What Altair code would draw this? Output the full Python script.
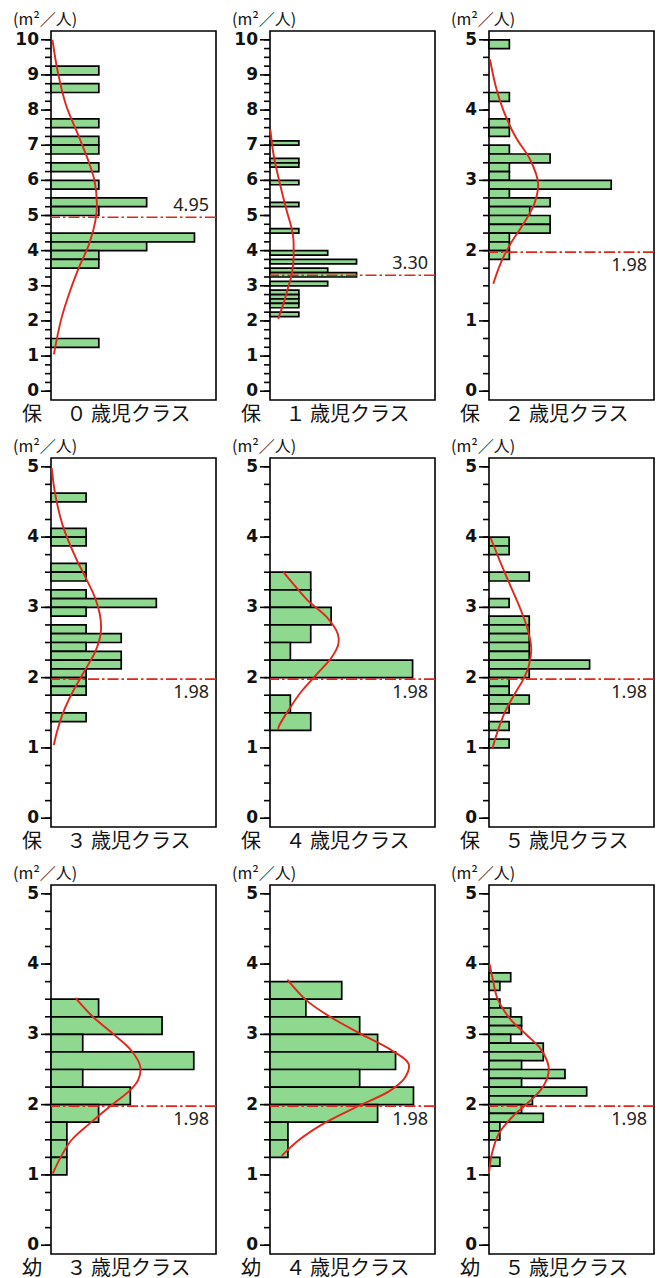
import altair as alt
import pandas as pd

# ---------------- data ----------------
TITLES = ["保　  ０ 歳児クラス", "保　  １ 歳児クラス", "保　  ２ 歳児クラス",
          "保　  ３ 歳児クラス", "保　  ４ 歳児クラス", "保　  ５ 歳児クラス",
          "幼　  ３ 歳児クラス", "幼　  ４ 歳児クラス", "幼　  ５ 歳児クラス"]
UNIT = "(m²／人)"
BINW = [0.25, 0.125, 0.125, 0.125, 0.25, 0.125, 0.25, 0.25, 0.125]
YMAX = [10, 10, 5, 5, 5, 5, 5, 5, 5]
XMAX = [3.45, 5.72, 8.1, 4.7, 8.1, 8.2, 10.4, 9.2, 15.2]
REF = [4.95, 3.30, 1.98, 1.98, 1.98, 1.98, 1.98, 1.98, 1.98]
REF_TEXT = ["4.95", "3.30", "1.98", "1.98", "1.98", "1.98", "1.98", "1.98", "1.98"]
REF_ABOVE = [True, True, False, False, False, False, False, False, False]

# histogram bins (lower edge) and counts
BIN_0 = [9.0, 8.5, 7.5, 7.0, 6.75, 6.25, 5.75, 5.25, 5.0, 4.25, 4.0, 3.75, 3.5, 1.25]
CNT_0 = [1, 1, 1, 1, 1, 1, 1, 2, 1, 3, 2, 1, 1, 1]
BIN_1 = [7.0, 6.5, 6.375, 5.875, 5.25, 4.5, 3.875, 3.625, 3.375, 3.25, 3.0, 2.75, 2.625, 2.5, 2.375, 2.125]
CNT_1 = [1, 1, 1, 1, 1, 1, 2, 3, 2, 3, 2, 1, 1, 1, 1, 1]
BIN_2 = [4.875, 4.125, 3.75, 3.625, 3.375, 3.25, 3.125, 3.0, 2.875, 2.75, 2.625, 2.5, 2.375, 2.25, 2.125, 2.0, 1.875]
CNT_2 = [1, 1, 1, 1, 1, 3, 1, 1, 6, 1, 3, 2, 3, 3, 1, 1, 1]
BIN_3 = [4.5, 4.0, 3.875, 3.5, 3.375, 3.125, 3.0, 2.875, 2.625, 2.5, 2.375, 2.25, 2.125, 2.0, 1.875, 1.75, 1.375]
CNT_3 = [1, 1, 1, 1, 1, 1, 3, 1, 1, 2, 1, 2, 2, 1, 1, 1, 1]
BIN_4 = [3.25, 3.0, 2.75, 2.5, 2.25, 2.0, 1.5, 1.25]
CNT_4 = [2, 2, 3, 2, 1, 7, 1, 2]
BIN_5 = [3.875, 3.75, 3.375, 3.0, 2.75, 2.625, 2.5, 2.375, 2.25, 2.125, 2.0, 1.875, 1.75, 1.625, 1.5, 1.25, 1.0]
CNT_5 = [1, 1, 2, 1, 2, 2, 2, 2, 2, 5, 2, 1, 1, 2, 1, 1, 1]
BIN_6 = [3.25, 3.0, 2.75, 2.5, 2.25, 2.0, 1.75, 1.5, 1.25, 1.0]
CNT_6 = [3, 7, 2, 9, 2, 5, 3, 1, 1, 1]
BIN_7 = [3.5, 3.25, 3.0, 2.75, 2.5, 2.25, 2.0, 1.75, 1.5, 1.25]
CNT_7 = [4, 2, 5, 6, 7, 5, 8, 6, 1, 1]
BIN_8 = [3.75, 3.625, 3.375, 3.25, 3.125, 3.0, 2.875, 2.75, 2.625, 2.5, 2.375, 2.25, 2.125, 2.0, 1.875, 1.75, 1.625, 1.5, 1.125]
CNT_8 = [2, 1, 1, 2, 3, 3, 2, 5, 5, 3, 7, 3, 9, 4, 3, 5, 1, 1, 1]

# fitted curves, points (value, count)
CV_0 = [10.0, 9.1, 8.16, 7.22, 6.56, 5.99, 5.33, 4.86, 4.20, 3.44, 2.78, 2.03, 1.05]
CC_0 = [0.03, 0.14, 0.31, 0.59, 0.78, 0.91, 0.96, 0.93, 0.80, 0.56, 0.38, 0.21, 0.06]
CV_1 = [7.46, 6.70, 5.95, 5.19, 4.63, 4.34, 3.95, 3.68, 3.30, 2.93, 2.55, 2.06]
CC_1 = [0.01, 0.13, 0.33, 0.56, 0.75, 0.81, 0.82, 0.81, 0.75, 0.62, 0.49, 0.28]
CV_2 = [4.72, 4.34, 4.0, 3.62, 3.29, 2.96, 2.67, 2.39, 2.10, 1.82, 1.53]
CC_2 = [0.05, 0.33, 0.70, 1.30, 2.03, 2.41, 2.23, 1.71, 1.06, 0.57, 0.21]
CV_3 = [4.98, 4.64, 4.17, 3.70, 3.41, 3.13, 2.84, 2.61, 2.37, 2.09, 1.80, 1.52, 1.23, 1.04]
CC_3 = [0.02, 0.11, 0.33, 0.71, 1.0, 1.26, 1.41, 1.41, 1.26, 0.95, 0.62, 0.36, 0.17, 0.08]
CV_4 = [3.50, 3.33, 3.10, 2.86, 2.62, 2.48, 2.29, 2.05, 1.81, 1.57, 1.31, 1.27]
CC_4 = [0.66, 1.15, 1.85, 2.79, 3.33, 3.36, 3.03, 2.30, 1.56, 0.98, 0.44, 0.40]
CV_5 = [3.99, 3.68, 3.35, 3.02, 2.69, 2.41, 2.17, 1.99, 1.75, 1.51, 1.23, 0.99]
CC_5 = [0.08, 0.51, 1.0, 1.5, 1.92, 2.1, 1.98, 1.73, 1.24, 0.79, 0.42, 0.17]
CV_6 = [3.52, 3.25, 3.01, 2.77, 2.54, 2.35, 2.20, 1.97, 1.73, 1.49, 1.26, 1.02]
CC_6 = [1.54, 2.64, 3.90, 5.06, 5.63, 5.49, 4.96, 3.69, 2.43, 1.27, 0.63, 0.11]
CV_7 = [3.78, 3.48, 3.25, 3.01, 2.77, 2.58, 2.39, 2.20, 1.97, 1.73, 1.49, 1.27]
CC_7 = [0.97, 2.05, 3.35, 5.03, 6.80, 7.73, 7.54, 6.70, 4.84, 2.98, 1.58, 0.65]
CV_8 = [4.00, 3.79, 3.50, 3.21, 2.98, 2.79, 2.55, 2.40, 2.21, 2.02, 1.83, 1.60, 1.31, 1.02]
CC_8 = [0.06, 0.34, 0.80, 2.0, 3.55, 4.77, 5.48, 5.41, 4.77, 3.55, 2.17, 0.95, 0.28, 0.0]

BINS = [BIN_0, BIN_1, BIN_2, BIN_3, BIN_4, BIN_5, BIN_6, BIN_7, BIN_8]
CNTS = [CNT_0, CNT_1, CNT_2, CNT_3, CNT_4, CNT_5, CNT_6, CNT_7, CNT_8]
CVS = [CV_0, CV_1, CV_2, CV_3, CV_4, CV_5, CV_6, CV_7, CV_8]
CCS = [CC_0, CC_1, CC_2, CC_3, CC_4, CC_5, CC_6, CC_7, CC_8]

# ---------------- styling ----------------
W, H = 165, 369
RED = "#e2261a"
GREEN = "#8fd88f"
NUMFONT = "DejaVu Sans"
VALFONT = "Noto Sans"
JPFONT = "Noto Sans CJK JP"
INK = "#111111"


def panel(k):
    ymax = YMAX[k]
    pad = ymax * 0.025
    ysc = alt.Scale(domain=[-pad, ymax + pad], nice=False, zero=False)
    xsc = alt.Scale(domain=[0, XMAX[k]], nice=False, zero=False)
    minor = [i * 0.25 for i in range(int(ymax / 0.25) + 1)]
    major = list(range(ymax + 1))

    bars_df = pd.DataFrame({
        "b0": BINS[k],
        "b1": [b + BINW[k] for b in BINS[k]],
        "n": CNTS[k],
        "z": [0] * len(BINS[k]),
    })
    bars = alt.Chart(bars_df).mark_bar(
        fill=GREEN, stroke="black", strokeWidth=1.7
    ).encode(
        x=alt.X("z:Q", scale=xsc, axis=None),
        x2="n:Q",
        y=alt.Y("b0:Q", scale=ysc, axis=None),
        y2="b1:Q",
    )

    minor_ticks = alt.Chart(pd.DataFrame({"m": minor})).mark_rule(
        color="black", strokeWidth=1.6
    ).encode(
        x=alt.value(-6), x2=alt.value(0),
        y=alt.Y("m:Q", scale=ysc, axis=None),
    )
    major_df = pd.DataFrame({"m": major, "lab": [str(v) for v in major]})
    major_ticks = alt.Chart(major_df).mark_rule(
        color="black", strokeWidth=1.6
    ).encode(
        x=alt.value(-10), x2=alt.value(0),
        y=alt.Y("m:Q", scale=ysc, axis=None),
    )
    major_labels = alt.Chart(major_df).mark_text(
        align="right", baseline="middle", font=NUMFONT, fontSize=17,
        fontWeight="bold", color=INK
    ).encode(
        x=alt.value(-12),
        y=alt.Y("m:Q", scale=ysc, axis=None),
        text="lab:N",
    )

    unit_title = alt.Chart(pd.DataFrame({"t": [UNIT]})).mark_text(
        align="left", baseline="bottom", font=JPFONT, fontSize=16, color=INK
    ).encode(x=alt.value(-38), y=alt.value(-3), text="t:N")

    bottom_title = alt.Chart(pd.DataFrame({"t": [TITLES[k]]})).mark_text(
        align="left", baseline="top", font=JPFONT, fontSize=20, color=INK
    ).encode(x=alt.value(-29), y=alt.value(H + 5), text="t:N")

    curve = alt.Chart(pd.DataFrame({"v": CVS[k], "c": CCS[k]})).mark_line(
        color=RED, strokeWidth=1.9, interpolate="catmull-rom"
    ).encode(
        x=alt.X("c:Q", scale=xsc, axis=None),
        y=alt.Y("v:Q", scale=ysc, axis=None),
        order="v:Q",
    )

    ref_df = pd.DataFrame({"r": [REF[k]], "t": [REF_TEXT[k]]})
    rule = alt.Chart(ref_df).mark_rule(
        color=RED, strokeWidth=1.7, strokeDash=[11, 3, 2.5, 3]
    ).encode(y=alt.Y("r:Q", scale=ysc, axis=None))

    above = REF_ABOVE[k]
    text = alt.Chart(ref_df).mark_text(
        align="right", baseline="bottom" if above else "top",
        dy=-2 if above else 5, font=VALFONT, fontSize=18, color="#222"
    ).encode(
        x=alt.value(W - 7),
        y=alt.Y("r:Q", scale=ysc, axis=None),
        text="t:N",
    )

    return alt.layer(
        bars, minor_ticks, major_ticks, major_labels, unit_title, bottom_title,
        curve, rule, text
    ).properties(width=W, height=H)


rows = [alt.hconcat(*[panel(3 * r + c) for c in range(3)], spacing=13)
        for r in range(3)]
chart = alt.vconcat(*rows, spacing=12).properties(
    padding={"left": 4, "top": 3, "right": 0, "bottom": 0}
).configure_view(stroke="black", strokeWidth=1.6)

chart.save("out.html", embed_options={"renderer": "svg", "actions": False})
